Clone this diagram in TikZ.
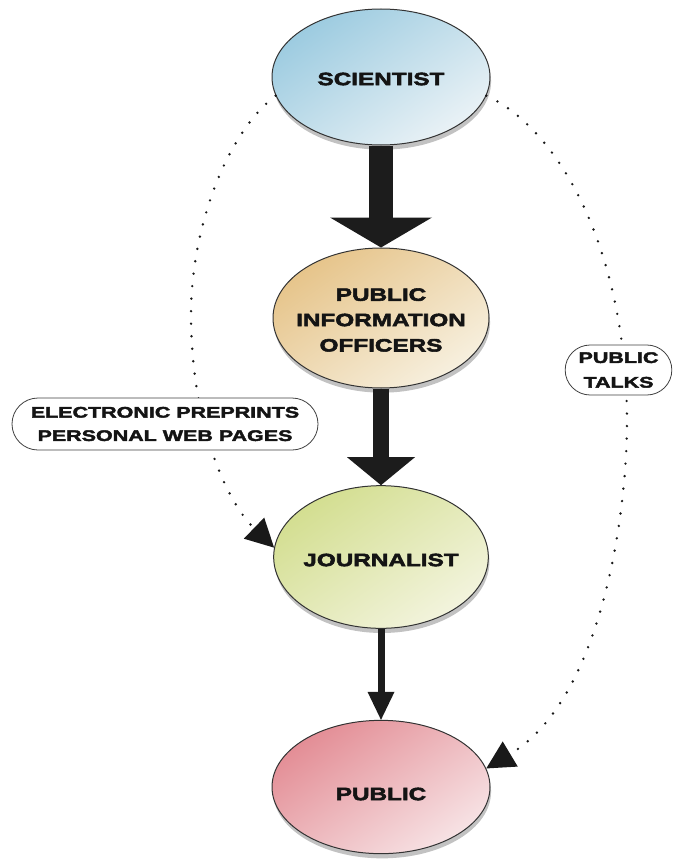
\documentclass[tikz,border=0pt]{standalone}
\usepackage{fontspec}
\usetikzlibrary{arrows.meta,shapes.geometric,shapes.misc,shadows}
\newfontfamily\eurofont{Liberation Sans}[FakeStretch=1.36,FakeBold=3,BoldFeatures={FakeBold=3}]
\newfontfamily\eurowide{Liberation Sans}[FakeStretch=1.40,FakeBold=2.6,BoldFeatures={FakeBold=2.6}]
\definecolor{sciA}{HTML}{9CCBE0}\definecolor{sciB}{HTML}{EAF2F6}
\definecolor{pioA}{HTML}{E6C48A}\definecolor{pioB}{HTML}{F7F0DF}
\definecolor{jouA}{HTML}{D3DE90}\definecolor{jouB}{HTML}{F3F4DE}
\definecolor{pubA}{HTML}{E38D95}\definecolor{pubB}{HTML}{F7E3E5}
\definecolor{arrowc}{HTML}{1C1C1C}
\definecolor{txt}{HTML}{141414}
\begin{document}
\begin{tikzpicture}[x=0.75pt,y=-0.75pt,
  bubble/.style={ellipse, draw=black!80, line width=0.75pt, inner sep=0pt,
    drop shadow={shadow xshift=0.8pt, shadow yshift=-3.5pt, fill=black!40, opacity=0.6}},
  sh/.style 2 args={top color=#1, bottom color=#2, shading angle=35},
  lbl/.style={font=\eurofont\bfseries\fontsize{13.4}{19}\selectfont, text=txt, align=center, inner sep=0pt},
  tag/.style={rounded rectangle, draw=black!75, line width=0.6pt, fill=white, inner sep=0pt,
    font=\eurowide\bfseries\fontsize{11.5}{17.5}\selectfont, text=txt, align=center},
  dotline/.style={line width=2pt, line cap=round, dash pattern=on 0pt off 9.4pt, draw=black!90},
  dottip/.style={-{Triangle[length=21pt,width=22pt,line width=0pt]}},
  fatarrow/.style={draw=arrowc, line width=#1},
]
\useasboundingbox (0,0) rectangle (672,867);

% ellipses
\node[bubble, sh={sciA}{sciB}, minimum width=163.5pt, minimum height=102pt] (sci) at (381,77) {};
\node[bubble, sh={pioA}{pioB}, minimum width=162pt, minimum height=105pt] (pio) at (381,318) {};
\node[bubble, sh={jouA}{jouB}, minimum width=161pt, minimum height=107pt] (jou) at (381,557) {};
\node[bubble, sh={pubA}{pubB}, minimum width=163.5pt, minimum height=100pt] (pub) at (381,787) {};

\node[lbl] (scit) at (381,79) {SCIENTIST};
\node[lbl] (piot) at (381,320) {PUBLIC\\INFORMATION\\OFFICERS};
\node[lbl] (jout) at (381,560) {JOURNALIST};
\node[lbl] (pubt) at (381,794) {PUBLIC};

% dotted connectors
\draw[dotline, dottip] (sci.190) .. controls (225,135) and (191,230) .. (191,315)
  .. controls (191,420) and (225,500) .. (jou.175);
\draw[dotline, dottip] (sci.350) .. controls (560,130) and (626,250) .. (627,420)
  .. controls (627,520) and (600,700) .. (pub.10);

% labels on dotted connectors
\node[tag, minimum width=229.5pt, minimum height=39pt] (epp) at (165,424) {ELECTRONIC PREPRINTS\\PERSONAL WEB PAGES};
\node[tag, minimum width=80pt, minimum height=37.5pt] (talk) at (618.5,370) {PUBLIC\\[1pt]TALKS};

% thick arrows
\draw[fatarrow=18pt, -{Triangle[width=76.5pt,length=22.5pt,line width=0pt]}] (sci.south) -- (pio.north);
\draw[fatarrow=12pt, -{Triangle[width=51pt,length=21pt,line width=0pt]}] (pio.south) -- (jou.north);
\draw[fatarrow=5.25pt, -{Triangle[width=20.25pt,length=21pt,line width=0pt]}] (jou.south) -- (pub.north);
\end{tikzpicture}
\end{document}
